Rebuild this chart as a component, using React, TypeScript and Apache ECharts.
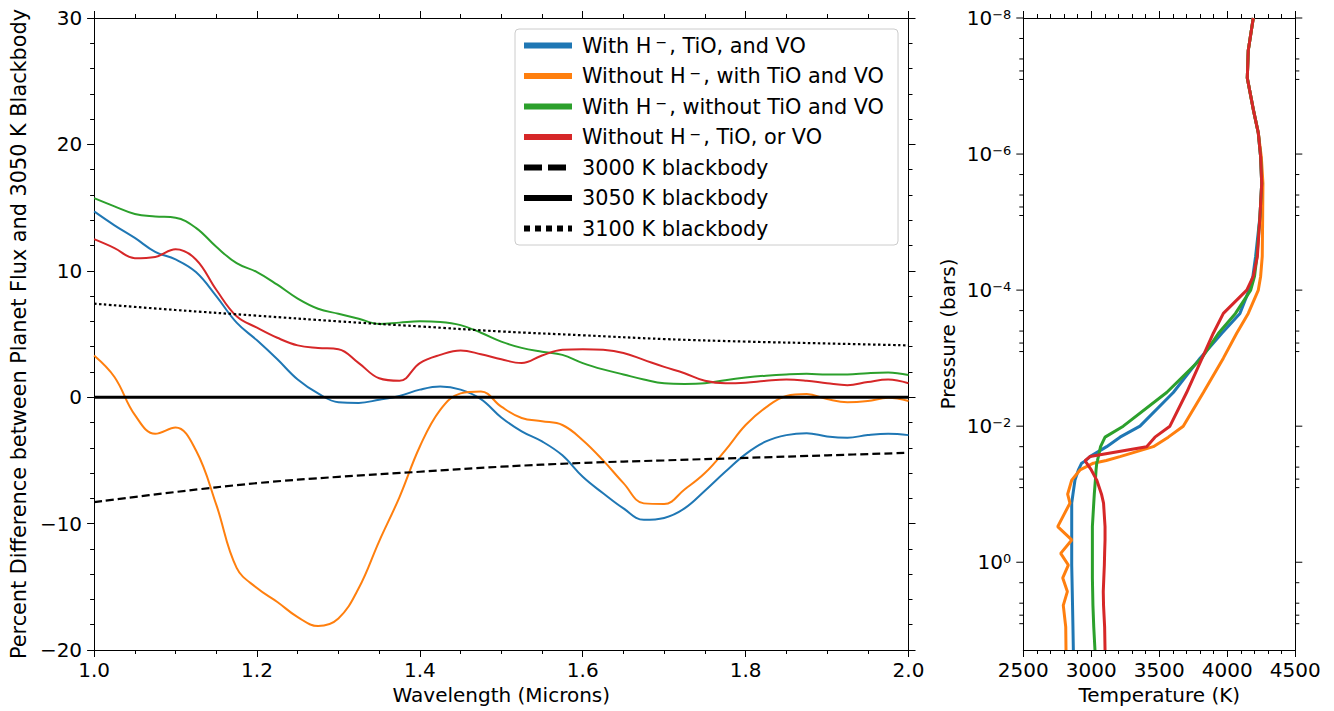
import { useEffect, useRef } from 'react'
import * as echarts from 'echarts'

// left panel: percent difference vs wavelength (microns)
const wavelength = [
  1.0, 1.025, 1.05, 1.075, 1.1, 1.125, 1.15, 1.175, 1.2, 1.225, 1.25, 1.275, 1.3, 1.325,
  1.35, 1.375, 1.4, 1.425, 1.45, 1.475, 1.5, 1.525, 1.55, 1.575, 1.6, 1.625, 1.65, 1.675,
  1.7, 1.725, 1.75, 1.775, 1.8, 1.825, 1.85, 1.875, 1.9, 1.925, 1.95, 1.975, 2.0,
]
const diffWithAll = [
  14.7, 13.6, 12.6, 11.5, 10.9, 9.9, 8.0, 5.9, 4.5, 3.0, 1.4, 0.3, -0.4, -0.45,
  -0.2, 0.1, 0.6, 0.85, 0.6, -0.15, -1.6, -2.7, -3.5, -4.6, -6.3, -7.6, -8.8, -9.7,
  -9.55, -8.8, -7.4, -5.9, -4.5, -3.5, -3.0, -2.85, -3.1, -3.2, -3.0, -2.9, -3.0,
]
const diffNoHminus = [
  3.3, 1.6, -1.4, -2.9, -2.4, -4.2, -8.5, -13.5, -15.1, -16.2, -17.4, -18.1, -17.5, -15.1,
  -11.4, -7.9, -3.9, -1.0, 0.3, 0.45, -0.75, -1.65, -1.9, -2.2, -3.4, -5.0, -6.8, -8.4,
  -8.45, -7.3, -6.0, -4.2, -2.2, -0.8, 0.1, 0.25, -0.15, -0.4, -0.3, -0.05, -0.3,
]
const diffNoTiOVO = [
  15.75, 15.1, 14.5, 14.3, 14.2, 13.4, 11.9, 10.6, 9.9, 8.9, 7.8, 7.0, 6.6, 6.2,
  5.8, 5.9, 6.0, 5.95, 5.7, 5.1, 4.4, 3.9, 3.6, 3.35, 2.7, 2.2, 1.8, 1.4,
  1.1, 1.05, 1.1, 1.35, 1.55, 1.7, 1.8, 1.85, 1.8, 1.8, 1.9, 1.95, 1.75,
]
const diffNone = [
  12.5, 11.8, 11.0, 11.1, 11.7, 10.9, 8.5, 6.4, 5.5, 4.7, 4.1, 3.9, 3.8, 2.7,
  1.5, 1.3, 2.7, 3.35, 3.7, 3.4, 3.0, 2.7, 3.3, 3.75, 3.8, 3.75, 3.5, 2.95,
  2.4, 1.9, 1.3, 1.1, 1.15, 1.3, 1.4, 1.3, 1.1, 0.95, 1.2, 1.4, 1.1,
]

const bbWavelength = [1.0, 1.1, 1.2, 1.3, 1.4, 1.5, 1.6, 1.7, 1.8, 1.9, 2.0]
const bb3000 = [-8.3, -7.5, -6.8, -6.3, -5.9, -5.5, -5.2, -5.0, -4.8, -4.6, -4.4]
const bb3050 = [0, 0, 0, 0, 0, 0, 0, 0, 0, 0, 0]
const bb3100 = [7.4, 6.9, 6.45, 6.0, 5.6, 5.2, 4.9, 4.6, 4.4, 4.25, 4.1]

// right panel: temperature (K) vs pressure (bars)
const pressure = [
  1e-8, 3e-8, 7.6e-8, 2.2e-7, 4.9e-7, 1.1e-6, 2.7e-6, 8.3e-6, 3.2e-5, 6.3e-5, 1e-4, 2.2e-4,
  4.3e-4, 1e-3, 3.2e-3, 1e-2, 1.45e-2, 2e-2, 2.8e-2, 3.2e-2, 3.5e-2, 4.4e-2, 6.2e-2, 0.1,
  0.135, 0.3, 0.47, 0.74, 1.1, 1.7, 2.7, 4.3, 8.9, 19.5,
]
const tempWithAll = [
  4191, 4154, 4147, 4191, 4228, 4245, 4253, 4240, 4208, 4188, 4160, 4093,
  3960, 3800, 3603, 3358, 3211, 3113, 2990, 2960, 2929, 2905, 2880, 2865,
  2856, 2856, 2856, 2856, 2856, 2858, 2860, 2862, 2865, 2868,
]
const tempNoHminus = [
  4191, 4154, 4147, 4191, 4228, 4250, 4262, 4260, 4257, 4245, 4228, 4154,
  4069, 3971, 3824, 3676, 3566, 3456, 3211, 3110, 3015, 2917, 2856, 2826,
  2843, 2753, 2856, 2775, 2831, 2790, 2824, 2794, 2812, 2814,
]
const tempNoTiOVO = [
  4191, 4154, 4147, 4191, 4228, 4245, 4253, 4240, 4218, 4200, 4172, 4060,
  3935, 3812, 3554, 3235, 3101, 3068, 3052, 3045, 3040, 3035, 3030, 3022,
  3018, 3008, 3008, 3008, 3008, 3008, 3010, 3012, 3018, 3027,
]
const tempNone = [
  4191, 4154, 4147, 4191, 4228, 4245, 4253, 4240, 4221, 4191, 4143, 3971,
  3897, 3815, 3701, 3578, 3468, 3407, 2990, 2954, 2966, 3000, 3040, 3075,
  3090, 3101, 3101, 3098, 3096, 3092, 3088, 3090, 3098, 3101,
]

const majorPressureTicks = [1e-8, 1e-6, 1e-4, 1e-2, 1]
const minorPressureTicks = [
  2e-8, 4e-8, 6e-8, 8e-8, 2e-6, 4e-6, 6e-6, 8e-6, 2e-4, 4e-4, 6e-4, 8e-4,
  2e-2, 4e-2, 6e-2, 8e-2, 2, 4, 6, 8,
]

const names = [
  'With H⁻, TiO, and VO',
  'Without H⁻, with TiO and VO',
  'With H⁻, without TiO and VO',
  'Without H⁻, TiO, or VO',
  '3000 K blackbody',
  '3050 K blackbody',
  '3100 K blackbody',
]
const colors = ['#1f77b4', '#ff7f0e', '#2ca02c', '#d62728']

const font = 'DejaVu Sans'
const sup: Record<string, string> = { '-': '−', '0': '0', '2': '2', '4': '4', '6': '6', '8': '8' }

const pairs = (xs: number[], ys: number[]) => xs.map((x, i) => [x, ys[i]])

export default function App() {
  const chartRef = useRef<HTMLDivElement>(null)

  useEffect(() => {
    if (!chartRef.current) return
    const chart = echarts.init(chartRef.current, null, { renderer: 'svg' })

    const black = { color: '#000', width: 1 }
    const label = { fontFamily: font, fontSize: 20, color: '#000' }
    const nameStyle = { fontFamily: font, fontSize: 20, color: '#000' }

    const sideAxis = (extra: any) => ({
      type: 'value',
      axisLine: { show: true, onZero: false, lineStyle: black },
      axisTick: { show: true, length: 7, lineStyle: black },
      minorTick: { show: true, length: 4, lineStyle: black },
      splitLine: { show: false },
      minorSplitLine: { show: false },
      ...extra,
    })

    const logLabel = (v: number) => {
      const e = Math.log10(v)
      const r = Math.round(e)
      if (Math.abs(e - r) > 0.01 || r % 2 !== 0) return ''
      const s = String(r).split('').map((c) => sup[c]).join('')
      return `{b|10}{s|${s}}`
    }

    const option: any = {
      animation: false,
      textStyle: { fontFamily: font },
      grid: [
        { left: 90, top: 18, width: 818.5, height: 632 },
        { left: 1023.3, top: 18, width: 272, height: 632 },
      ],
      xAxis: [
        sideAxis({
          gridIndex: 0, min: 1, max: 2, interval: 0.2, position: 'bottom',
          minorTick: { show: true, length: 4, splitNumber: 4, lineStyle: black },
          axisLabel: { ...label, margin: 10, formatter: (v: number) => v.toFixed(1) },
          name: 'Wavelength (Microns)', nameLocation: 'middle', nameGap: 34, nameTextStyle: nameStyle,
        }),
        sideAxis({
          gridIndex: 0, min: 1, max: 2, interval: 0.2, position: 'top',
          minorTick: { show: true, length: 4, splitNumber: 4, lineStyle: black },
          axisLabel: { show: false },
        }),
        sideAxis({
          gridIndex: 1, min: 2500, max: 4500, interval: 500, position: 'bottom',
          minorTick: { show: true, length: 4, splitNumber: 5, lineStyle: black },
          axisLabel: { ...label, margin: 10, formatter: (v: number) => String(v) },
          name: 'Temperature (K)', nameLocation: 'middle', nameGap: 34, nameTextStyle: nameStyle,
        }),
        sideAxis({
          gridIndex: 1, min: 2500, max: 4500, interval: 500, position: 'top',
          minorTick: { show: true, length: 4, splitNumber: 5, lineStyle: black },
          axisLabel: { show: false },
        }),
      ],
      yAxis: [
        sideAxis({
          gridIndex: 0, min: -20, max: 30, interval: 10, position: 'left',
          minorTick: { show: true, length: 4, splitNumber: 5, lineStyle: black },
          axisLabel: {
            ...label, margin: 12,
            formatter: (v: number) => (v < 0 ? '−' + Math.abs(v) : String(v)),
          },
          name: 'Percent Difference between Planet Flux and 3050 K Blackbody',
          nameLocation: 'middle', nameGap: 60, nameTextStyle: { ...nameStyle, fontSize: 20.8 },
        }),
        sideAxis({
          gridIndex: 0, min: -20, max: 30, interval: 10, position: 'right',
          minorTick: { show: true, length: 4, splitNumber: 5, lineStyle: black },
          axisLabel: { show: false },
        }),
        {
          type: 'log', logBase: 10, gridIndex: 1, min: 1e-8, max: 19.5, inverse: true,
          position: 'left',
          axisLine: { show: true, onZero: false, lineStyle: black },
          axisTick: { show: false },
          minorTick: { show: false },
          splitLine: { show: false },
          axisLabel: {
            interval: 0, margin: 12, color: '#000', fontFamily: font,
            formatter: logLabel,
            rich: {
              b: { fontFamily: font, fontSize: 20, color: '#000', lineHeight: 20 },
              s: { fontFamily: font, fontSize: 13, color: '#000', lineHeight: 12, verticalAlign: 'top' },
            },
          },
          name: 'Pressure (bars)', nameLocation: 'middle', nameGap: 65, nameTextStyle: nameStyle,
        },
        {
          type: 'log', logBase: 10, gridIndex: 1, min: 1e-8, max: 19.5, inverse: true,
          position: 'right',
          axisLine: { show: true, onZero: false, lineStyle: black },
          axisTick: { show: false },
          minorTick: { show: false },
          splitLine: { show: false },
          axisLabel: { show: false },
        },
      ],
      legend: {
        orient: 'vertical',
        left: 515,
        top: 29,
        selectedMode: false,
        itemWidth: 48,
        itemHeight: 14,
        itemGap: 9.5,
        padding: [6, 14, 6, 6],
        backgroundColor: 'rgba(255,255,255,0.8)',
        borderColor: '#cccccc',
        borderWidth: 1,
        borderRadius: 4,
        lineStyle: { width: 6 },
        itemStyle: { color: 'rgba(0,0,0,0)', borderColor: 'rgba(0,0,0,0)', borderWidth: 0, opacity: 0 },
        textStyle: {
          fontFamily: font, fontSize: 20.8, color: '#000', padding: [0, 0, 0, 5],
          rich: {
            m: { fontFamily: font, fontSize: 14, color: '#000', lineHeight: 6, verticalAlign: 'top', padding: [0, 2, 0, 4] },
          },
        },
        formatter: (name: string) => name.replace('H⁻', 'H{m|−}'),
        data: [
          { name: names[0] },
          { name: names[1] },
          { name: names[2] },
          { name: names[3] },
          { name: names[4], lineStyle: { type: [18, 6], width: 6 } },
          { name: names[5], lineStyle: { width: 6 } },
          { name: names[6], lineStyle: { type: [6, 5], width: 6 } },
        ],
      },
      series: [
        ...[diffWithAll, diffNoHminus, diffNoTiOVO, diffNone].map((d, i) => ({
          name: names[i],
          type: 'line',
          xAxisIndex: 0,
          yAxisIndex: 0,
          data: pairs(wavelength, d),
          smooth: 0.4,
          symbol: 'none',
          lineStyle: { color: colors[i], width: 2 },
          itemStyle: { color: colors[i] },
        })),
        {
          name: names[4], type: 'line', xAxisIndex: 0, yAxisIndex: 0,
          data: pairs(bbWavelength, bb3000), smooth: 0.4, symbol: 'none',
          lineStyle: { color: '#000', width: 2.2, type: [8, 4] }, itemStyle: { color: '#000' },
        },
        {
          name: names[5], type: 'line', xAxisIndex: 0, yAxisIndex: 0,
          data: pairs(bbWavelength, bb3050), symbol: 'none',
          lineStyle: { color: '#000', width: 3 }, itemStyle: { color: '#000' },
        },
        {
          name: names[6], type: 'line', xAxisIndex: 0, yAxisIndex: 0,
          data: pairs(bbWavelength, bb3100), smooth: 0.4, symbol: 'none',
          lineStyle: { color: '#000', width: 2.2, type: [2.5, 2.5] }, itemStyle: { color: '#000' },
        },
        ...[tempWithAll, tempNoHminus, tempNoTiOVO, tempNone].map((d, i) => ({
          name: names[i],
          type: 'line',
          xAxisIndex: 2,
          yAxisIndex: 2,
          data: pairs(d, pressure),
          symbol: 'none',
          lineStyle: { color: colors[i], width: 3 },
          itemStyle: { color: colors[i] },
        })),
        {
          type: 'custom',
          xAxisIndex: 2,
          yAxisIndex: 2,
          silent: true,
          clip: false,
          data: [
            ...majorPressureTicks.map((p) => [2500, p, 7]),
            ...minorPressureTicks.map((p) => [2500, p, 4]),
          ],
          renderItem: (params: any, api: any) => {
            const y = api.coord([api.value(0), api.value(1)])[1]
            const len = api.value(2)
            const cs = params.coordSys
            const style = { stroke: '#000', lineWidth: 1 }
            return {
              type: 'group',
              children: [
                { type: 'line', shape: { x1: cs.x - len, y1: y, x2: cs.x, y2: y }, style },
                { type: 'line', shape: { x1: cs.x + cs.width, y1: y, x2: cs.x + cs.width + len, y2: y }, style },
              ],
            }
          },
        },
      ],
    }

    chart.setOption(option)

    return () => {
      chart.dispose()
    }
  }, [])

  return (
    <div
      ref={chartRef}
      style={{ position: 'fixed', left: 0, top: 0, width: '1334px', height: '711px', background: '#fff' }}
    />
  )
}
